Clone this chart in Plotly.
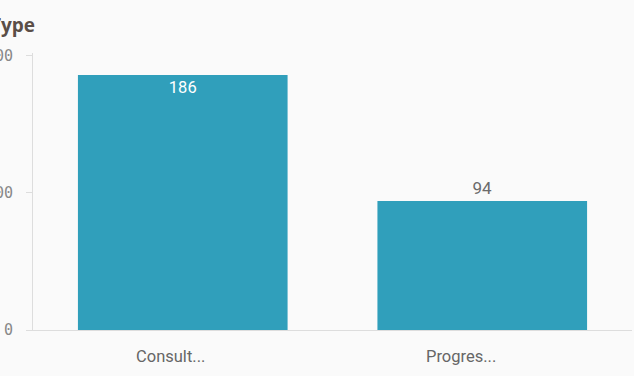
import plotly.graph_objects as go

# Case counts by type
categories = ["Consult...", "Progres..."]
counts = [186, 94]
label_positions = ["inside", "outside"]
tick_values = [0, 100, 200]
tick_labels = ["0", "100", "200"]
title_text = "Type"

# horizontal nudge of each truncated category label (px)
category_label_shift = [-12, -21]

bar_color = "#309fbb"

fig = go.Figure(
    go.Bar(
        x=categories,
        y=counts,
        marker=dict(color=bar_color, line=dict(width=0)),
        text=[str(v) for v in counts],
        textposition=label_positions,
        insidetextanchor="end",
        insidetextfont=dict(color="#ffffff", size=16.5, family="Roboto"),
        outsidetextfont=dict(color="#6b6b6b", size=17, family="Roboto"),
        cliponaxis=False,
        hoverinfo="skip",
    )
)

annotations = [
    dict(
        text=f"<b>{title_text}</b>",
        xref="paper",
        yref="paper",
        x=-45 / 599,
        y=1 + 28 / 277,
        xanchor="left",
        yanchor="middle",
        showarrow=False,
        font=dict(size=19, color="#5a4e47", family="Open Sans"),
    )
]
for cat, shift in zip(categories, category_label_shift):
    annotations.append(
        dict(
            text=cat,
            xref="x",
            yref="paper",
            x=cat,
            y=0,
            yshift=-26,
            xshift=shift,
            xanchor="center",
            yanchor="middle",
            showarrow=False,
            font=dict(size=16.5, color="#666666", family="Roboto"),
        )
    )

fig.update_layout(
    width=634,
    height=376,
    margin=dict(l=33, r=2, t=53, b=46, autoexpand=False),
    paper_bgcolor="#fafafa",
    plot_bgcolor="#fafafa",
    bargap=0.3,
    showlegend=False,
    font=dict(family="Roboto", color="#6b6b6b"),
    xaxis=dict(
        automargin=False,
        showgrid=False,
        showline=True,
        linecolor="#dddddd",
        linewidth=1,
        ticks="",
        showticklabels=False,
    ),
    yaxis=dict(
        automargin=False,
        range=[0, 202],
        tickvals=tick_values,
        ticktext=tick_labels,
        showgrid=False,
        zeroline=False,
        showline=True,
        linecolor="#dddddd",
        linewidth=1,
        ticks="outside",
        ticklen=6,
        tickcolor="#dddddd",
        tickfont=dict(size=15, color="#888888", family="DejaVu Sans Mono"),
        ticklabelstandoff=10,
    ),
    annotations=annotations,
)

fig.write_html("out.html")
